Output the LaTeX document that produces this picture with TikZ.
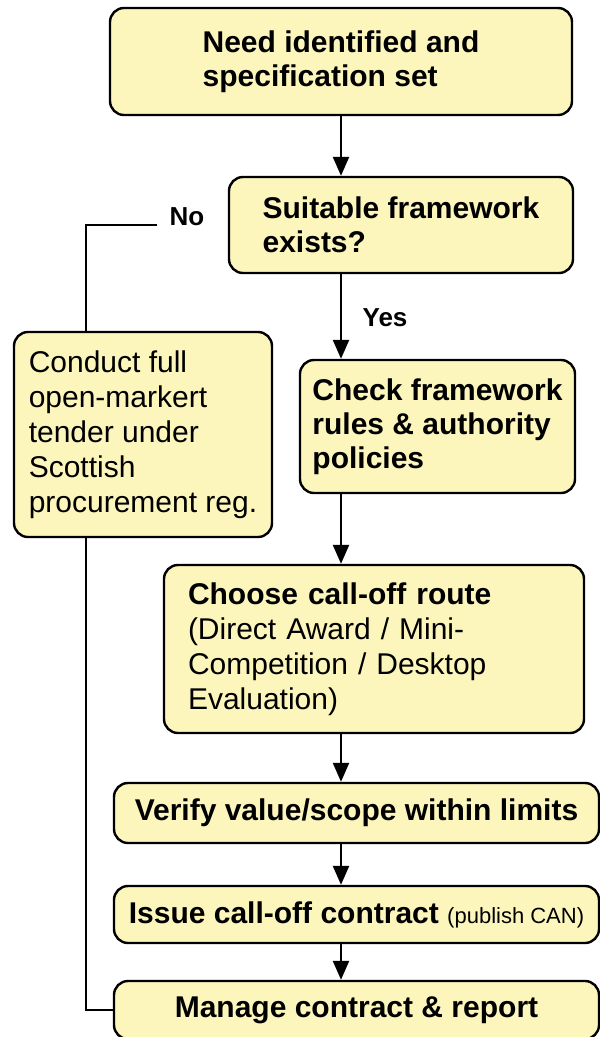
\documentclass[tikz,border=0pt]{standalone}
\usepackage{fontspec}
\setmainfont{Liberation Sans}
\usepackage{xcolor}
\usepackage{tikz}
\usetikzlibrary{positioning}
\usetikzlibrary{arrows.meta}
\definecolor{boxfill}{RGB}{252,246,188}
\tikzset{flow/.style = {-{Triangle[length=19pt,width=16pt]}}}

\begin{document}
\begin{tikzpicture}[x=1pt,y=-1pt,line width=2.4pt,
    box/.style={rectangle,rounded corners=14pt,draw,fill=boxfill,align=left,inner sep=0pt,font=\fontsize{30}{34}\selectfont\bfseries},
    plain box/.style={box,font=\fontsize{30}{35}\selectfont},
    tag/.style={inner xsep=11pt,font=\fontsize{26}{30}\selectfont\bfseries}]
  \fill[white] (0,0) rectangle (600,1037);
  \useasboundingbox (0,0) rectangle (600,1037);

  \node[box,minimum width=462pt,minimum height=107pt] (need) at (341,61.5) {Need identified and\\specification set};
  \node[box,minimum width=344pt,minimum height=96pt] (exists) at (401,225) {Suitable framework\\exists?};
  \node[plain box,minimum width=258pt,minimum height=205pt] (conduct) at (143,434.5)
    {Conduct full\\open-markert\\tender under\\Scottish\\procurement reg.};
  \node[box,minimum width=275pt,minimum height=133pt] (check) at (437.5,426.5) {Check framework\\rules \& authority\\policies};
  \node[plain box,text width=372pt,inner xsep=24pt,minimum height=168pt] (route) at (374,649)
    {\textbf{Choose call-off route}\\(Direct Award / Mini-\\Competition / Desktop\\Evaluation)};
  \node[box,minimum width=485pt,minimum height=60pt] (verify) at (356.5,813) {Verify value/scope within limits};
  \node[box,minimum width=485pt,minimum height=57pt] (issue) at (356.5,914.5)
    {Issue call-off contract {\mdseries\fontsize{22}{26}\selectfont (publish CAN)}};
  \node[box,minimum width=485pt,minimum height=58pt] (manage) at (356.5,1010) {Manage contract \& report};

  \node[tag] (no) at (187,217) {No};
  \node[tag] (yes) at (385,318) {Yes};
  \coordinate (rail) at (86,0);

  \path[flow]
      (need.south) edge (need.south |- exists.north)
      (need.south |- exists.south) edge (need.south |- check.north)
      (need.south |- check.south) edge (need.south |- route.north)
      (need.south |- route.south) edge (need.south |- verify.north)
      (need.south |- verify.south) edge (need.south |- issue.north)
      (need.south |- issue.south) edge (need.south |- manage.north)
      ;

  \draw (no.west |- exists.west) -| (rail |- conduct.north);
  \draw (rail |- conduct.south) |- (manage.west);
\end{tikzpicture}
\end{document}
